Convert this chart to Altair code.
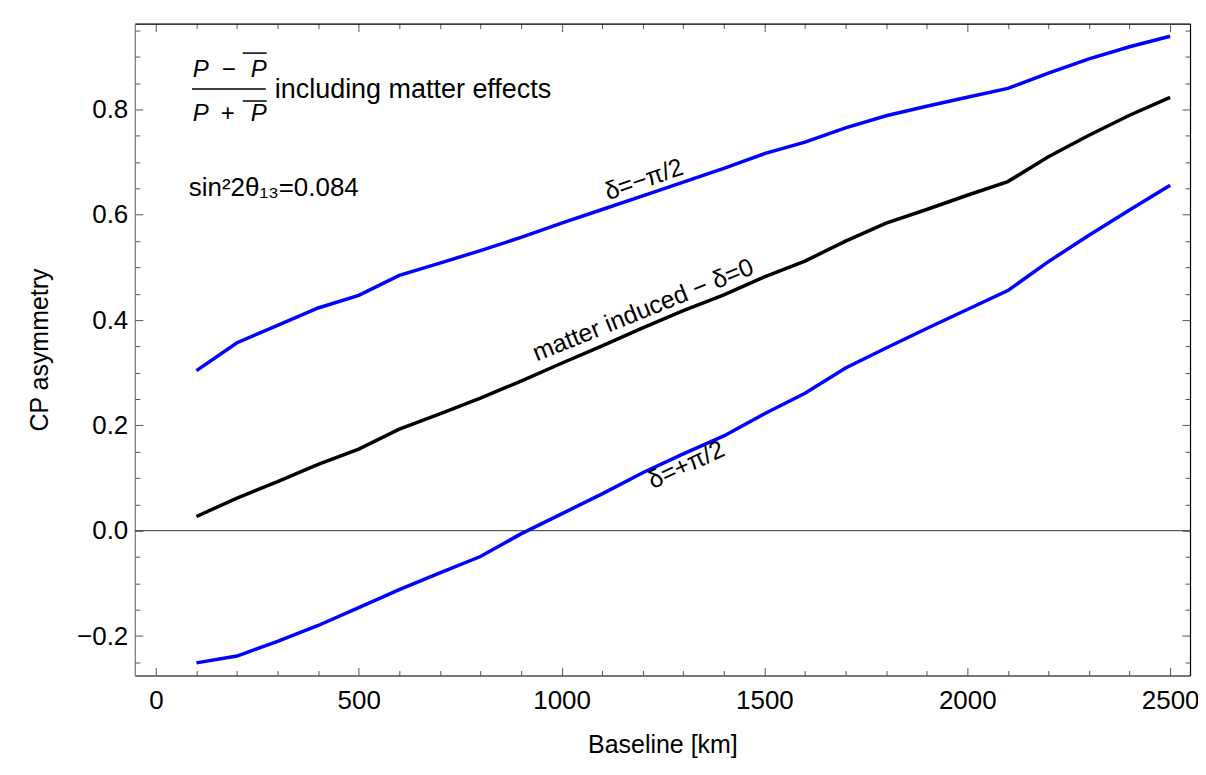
import altair as alt
import pandas as pd

# ---------------- data ----------------
baseline_km = [100, 200, 300, 400, 500, 600, 700, 800, 900, 1000, 1100, 1200, 1300,
               1400, 1500, 1600, 1700, 1800, 1900, 2000, 2100, 2200, 2300, 2400, 2500]
asym_minus_pi2 = [0.304, 0.357, 0.390, 0.423, 0.447, 0.485, 0.508, 0.532, 0.557, 0.584,
                  0.610, 0.636, 0.662, 0.688, 0.716, 0.738, 0.765, 0.788, 0.806, 0.823,
                  0.840, 0.869, 0.896, 0.919, 0.939]
asym_zero = [0.027, 0.062, 0.093, 0.126, 0.155, 0.193, 0.222, 0.252, 0.284, 0.318,
             0.351, 0.385, 0.418, 0.448, 0.482, 0.512, 0.550, 0.584, 0.610, 0.637,
             0.663, 0.710, 0.751, 0.789, 0.823]
asym_plus_pi2 = [-0.251, -0.238, -0.210, -0.180, -0.146, -0.112, -0.080, -0.049, -0.006, 0.032,
                 0.070, 0.110, 0.146, 0.180, 0.222, 0.261, 0.309, 0.347, 0.384, 0.420,
                 0.456, 0.511, 0.561, 0.609, 0.656]
series_names = ["delta=-pi/2", "delta=0", "delta=+pi/2"]
series_colors = ["#0000ff", "#000000", "#0000ff"]

x_major_ticks = [0, 500, 1000, 1500, 2000, 2500]
x_all_ticks = list(range(0, 2501, 100))
y_major_ticks = [-0.2, 0.0, 0.2, 0.4, 0.6, 0.8]
y_all_ticks = [round(-0.25 + 0.05 * i, 2) for i in range(25)]

x_domain = [-52, 2549]
y_domain = [-0.275, 0.963]

# line labels
line_label_text = ["δ=−π/2", "matter induced − δ=0", "δ=+π/2"]
line_label_x = [1203, 1201, 1307]
line_label_y = [0.667, 0.419, 0.125]
line_label_angle = [341, 338, 335]

# annotation texts
frac_text = ["P", "−", "P", "P", "+", "P"]
frac_x = [91, 180, 273, 91, 177, 273]
frac_y = [0.874, 0.874, 0.874, 0.792, 0.792, 0.792]
frac_rule_x = [89, 214, 214]
frac_rule_x2 = [271, 273, 273]
frac_rule_y = [0.839, 0.907, 0.816]
note_text = ["including matter effects", "sin²2θ₁₃=0.084"]
note_x = [293, 81]
note_y = [0.836, 0.650]
note_size = [27, 26]

W, H = 1057, 653
FONT = "Liberation Sans"

# ---------------- tables ----------------
rows = []
for name, vals in zip(series_names, [asym_minus_pi2, asym_zero, asym_plus_pi2]):
    for xv, yv in zip(baseline_km, vals):
        rows.append({"L": xv, "A": yv, "series": name})
lines_df = pd.DataFrame(rows)

xs = alt.Scale(domain=x_domain, nice=False, zero=False)
ys = alt.Scale(domain=y_domain, nice=False, zero=False)

x_tick_size = {"condition": {"test": "datum.value % 500 === 0", "value": 8}, "value": 5}
y_tick_size = {"condition": {"test": "abs(datum.value*5 - round(datum.value*5)) < 0.001", "value": 8}, "value": 5}

axis_x_main = alt.Axis(values=x_major_ticks, format="d", ticks=False, grid=False,
                       domainColor="#000000", domainWidth=1.2, labelFontSize=26,
                       labelPadding=12, labelColor="#000000", title="Baseline [km]",
                       titleFontSize=25, titleFontWeight="normal", titleColor="#000000",
                       titleX=W / 2, titleY=69, titleBaseline="middle", titleAlign="center",
                       orient="bottom", labelFont=FONT, titleFont=FONT)
axis_y_main = alt.Axis(values=y_major_ticks, format=".1f", ticks=False, grid=False,
                       domainColor="#7a7a7a", domainWidth=1.2, labelFontSize=26,
                       labelPadding=7, labelColor="#000000", title="CP asymmetry",
                       titleFontSize=25, titleFontWeight="normal", titleColor="#000000",
                       titleX=-95, titleY=H / 2, titleAngle=270, titleBaseline="middle",
                       titleAlign="center", orient="left", labelFont=FONT, titleFont=FONT)
axis_x_bottom_ticks = alt.Axis(values=x_all_ticks, orient="top", offset=-H, labels=False,
                               domain=False, grid=False, tickSize=x_tick_size,
                               tickColor="#555555", tickWidth=1, title=None)
axis_x_top_ticks = alt.Axis(values=x_all_ticks, orient="bottom", offset=-H, labels=False,
                            domain=True, domainColor="#000000", domainWidth=1.2, grid=False,
                            tickSize=x_tick_size, tickColor="#555555", tickWidth=1, title=None)
axis_y_left_ticks = alt.Axis(values=y_all_ticks, orient="right", offset=-W, labels=False,
                             domain=False, grid=False, tickSize=y_tick_size,
                             tickColor="#555555", tickWidth=1, title=None)
axis_y_right_ticks = alt.Axis(values=y_all_ticks, orient="left", offset=-W, labels=False,
                              domain=True, domainColor="#000000", domainWidth=1.2, grid=False,
                              tickSize=y_tick_size, tickColor="#555555", tickWidth=1, title=None)

lines = alt.Chart(lines_df).mark_line(strokeWidth=3.5).encode(
    x=alt.X("L:Q", scale=xs, axis=axis_x_main),
    y=alt.Y("A:Q", scale=ys, axis=axis_y_main),
    color=alt.Color("series:N", scale=alt.Scale(domain=series_names, range=series_colors), legend=None),
    detail="series:N",
)

zero_rule = alt.Chart(pd.DataFrame({"z": [0.0]})).mark_rule(color="#333333", strokeWidth=1).encode(
    y=alt.Y("z:Q", scale=ys, axis=None)
)

label_layers = []
for i in range(3):
    d = pd.DataFrame({"x": [line_label_x[i]], "y": [line_label_y[i]], "t": [line_label_text[i]]})
    if i == 0:
        xa, ya = axis_x_bottom_ticks, axis_y_left_ticks
    elif i == 1:
        xa, ya = axis_x_top_ticks, axis_y_right_ticks
    else:
        xa, ya = None, None
    label_layers.append(
        alt.Chart(d).mark_text(angle=line_label_angle[i], align="center", baseline="middle",
                               fontSize=25, font=FONT, color="#000000").encode(
            x=alt.X("x:Q", scale=xs, axis=xa),
            y=alt.Y("y:Q", scale=ys, axis=ya),
            text="t:N",
        )
    )

frac_df = pd.DataFrame({"x": frac_x, "y": frac_y, "t": frac_text})
frac_left = alt.Chart(frac_df.iloc[[0, 3]]).mark_text(align="left", baseline="middle", fontSize=24,
                                                      fontStyle="italic", font=FONT, color="#000000").encode(
    x=alt.X("x:Q", scale=xs, axis=None), y=alt.Y("y:Q", scale=ys, axis=None), text="t:N")
frac_mid = alt.Chart(frac_df.iloc[[1, 4]]).mark_text(align="center", baseline="middle", fontSize=24,
                                                     font=FONT, color="#000000").encode(
    x=alt.X("x:Q", scale=xs, axis=None), y=alt.Y("y:Q", scale=ys, axis=None), text="t:N")
frac_right = alt.Chart(frac_df.iloc[[2, 5]]).mark_text(align="right", baseline="middle", fontSize=24,
                                                       fontStyle="italic", font=FONT, color="#000000").encode(
    x=alt.X("x:Q", scale=xs, axis=None), y=alt.Y("y:Q", scale=ys, axis=None), text="t:N")
frac_rules = alt.Chart(pd.DataFrame({"x": frac_rule_x, "x2": frac_rule_x2, "y": frac_rule_y})).mark_rule(
    color="#000000", strokeWidth=1.5).encode(
    x=alt.X("x:Q", scale=xs, axis=None), x2="x2:Q", y=alt.Y("y:Q", scale=ys, axis=None))

note_df = pd.DataFrame({"x": note_x, "y": note_y, "t": note_text, "s": note_size})
notes = alt.Chart(note_df).mark_text(align="left", baseline="middle", font=FONT, color="#000000").encode(
    x=alt.X("x:Q", scale=xs, axis=None), y=alt.Y("y:Q", scale=ys, axis=None), text="t:N",
    size=alt.Size("s:Q", scale=None, legend=None))

chart = alt.layer(
    lines, *label_layers, zero_rule, frac_left, frac_mid, frac_right, frac_rules, notes
).resolve_axis(x="independent", y="independent").properties(
    width=W, height=H,
    autosize=alt.AutoSizeParams(type="none"),
    padding={"left": 127, "top": 15, "right": 8, "bottom": 85},
    background="#ffffff",
).configure_view(stroke=None).configure(font=FONT)

chart.save("out.html", embed_options={"renderer": "svg", "actions": False})
